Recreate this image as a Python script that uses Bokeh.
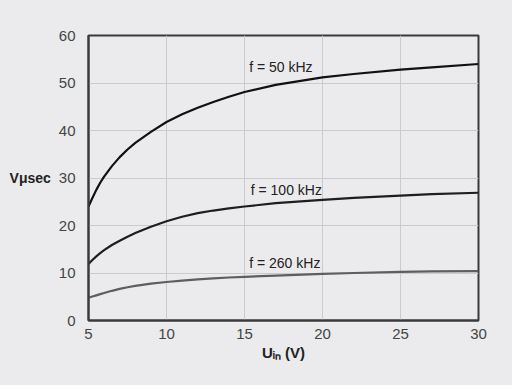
from bokeh.plotting import figure
from bokeh.models import Label, FixedTicker
from bokeh.embed import file_html
from bokeh.resources import INLINE

# Data
u_in = [5, 5.25, 5.5, 5.75, 6, 6.5, 7, 7.5, 8, 9, 10, 11, 12, 13, 14, 15, 17, 20, 22, 25, 27, 30]
f50 = [24.0, 25.8, 27.5, 29.0, 30.3, 32.5, 34.4, 36.0, 37.4, 39.7, 41.8, 43.4, 44.8, 46.0, 47.1, 48.1, 49.6, 51.2, 51.9, 52.8, 53.3, 54.0]
f100 = [11.9, 12.75, 13.5, 14.2, 14.8, 15.9, 16.8, 17.65, 18.4, 19.75, 20.9, 21.85, 22.6, 23.15, 23.6, 24.0, 24.7, 25.4, 25.8, 26.3, 26.6, 26.9]
f260 = [4.8, 5.05, 5.3, 5.55, 5.8, 6.25, 6.65, 7.0, 7.3, 7.75, 8.1, 8.4, 8.65, 8.85, 9.05, 9.2, 9.45, 9.8, 10.0, 10.25, 10.35, 10.4]
series_labels = ["f = 50 kHz", "f = 100 kHz", "f = 260 kHz"]
label_pos = [(15.3, 53.3), (15.4, 27.4), (15.3, 12.2)]
x_ticks = [5, 10, 15, 20, 25, 30]
y_ticks = [0, 10, 20, 30, 40, 50, 60]

BG = "#ebebed"
FONT = "Liberation Sans"

p = figure(width=512, height=385, x_range=(5, 30), y_range=(0, 60),
           output_backend="svg", toolbar_location=None,
           min_border_left=88, min_border_right=34, min_border_top=35, min_border_bottom=65)
p.background_fill_color = BG
p.border_fill_color = BG
p.outline_line_color = "#3a3a3a"
p.outline_line_width = 2

for ax in (p.xaxis[0], p.yaxis[0]):
    ax.axis_line_color = "#3a3a3a"
    ax.axis_line_width = 2
    ax.major_tick_line_color = None
    ax.minor_tick_line_color = None
    ax.major_label_text_font = FONT
    ax.major_label_text_font_size = "15px"
    ax.major_label_text_color = "#444444"
p.xaxis.ticker = FixedTicker(ticks=x_ticks)
p.yaxis.ticker = FixedTicker(ticks=y_ticks)
p.xaxis.major_label_standoff = 2
p.yaxis.major_label_standoff = 7

p.yaxis.axis_label = "Vμsec"
p.yaxis.axis_label_orientation = "horizontal"
p.yaxis.axis_label_text_font = FONT
p.yaxis.axis_label_text_font_style = "bold"
p.yaxis.axis_label_text_font_size = "14px"
p.yaxis.axis_label_text_color = "#222222"
p.yaxis.axis_label_standoff = 5

p.xaxis.axis_label = "Uᵢₙ (V)"
p.xaxis.axis_label_text_font = FONT
p.xaxis.axis_label_text_font_style = "bold"
p.xaxis.axis_label_text_font_size = "15px"
p.xaxis.axis_label_text_color = "#222222"
p.xaxis.axis_label_standoff = 2

p.xgrid.grid_line_color = "#cbcbcd"
p.ygrid.grid_line_color = "#cbcbcd"
p.xgrid.grid_line_width = 1
p.ygrid.grid_line_width = 1

p.line(u_in, f50, line_color="#111111", line_width=2.2)
p.line(u_in, f100, line_color="#1e1e1e", line_width=2.2)
p.line(u_in, f260, line_color="#5e5e5e", line_width=2.2)

for txt, (lx, ly) in zip(series_labels, label_pos):
    p.add_layout(Label(x=lx, y=ly, text=txt, text_font=FONT, text_font_size="14px",
                       text_color="#222222", text_baseline="middle", text_align="left"))

html = file_html(p, INLINE)
html = html.replace("<head>", "<head><style>html,body{background:#ebebed;}</style>", 1)
open("out.html", "w").write(html)
